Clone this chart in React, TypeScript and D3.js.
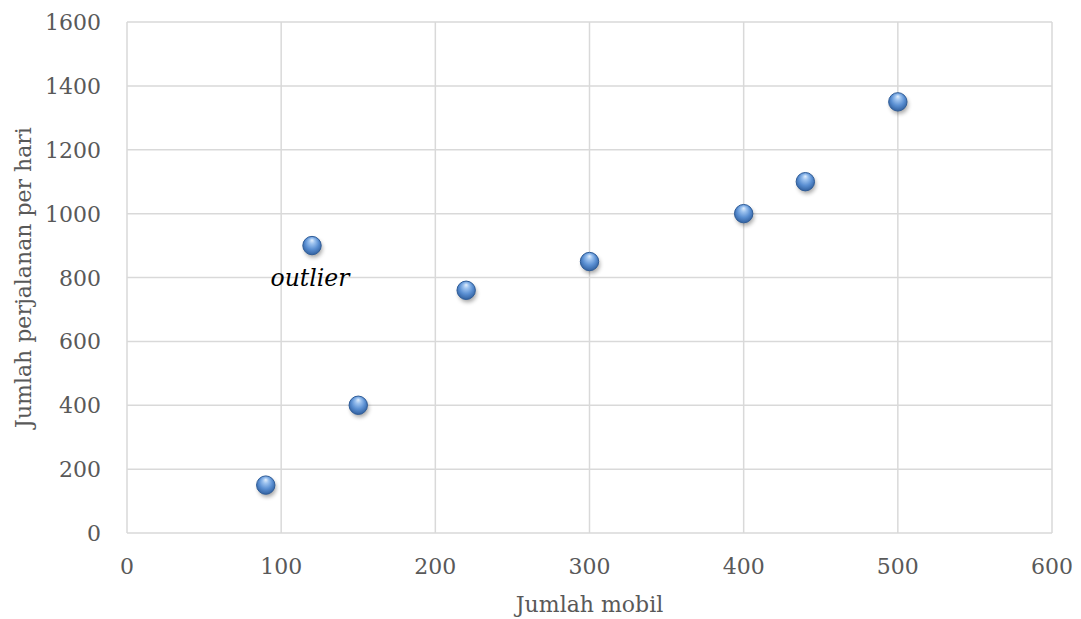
import React from 'react';
import * as d3 from 'd3';

// data
const jumlahMobil = [90, 120, 150, 220, 300, 400, 440, 500];
const perjalananPerHari = [150, 900, 400, 760, 850, 1000, 1100, 1350];
const xTicks = [0, 100, 200, 300, 400, 500, 600];
const yTicks = [0, 200, 400, 600, 800, 1000, 1200, 1400, 1600];
const outlierIndex = 1;

const width = 1081;
const height = 619;
const margin = { top: 22, right: 29, bottom: 86, left: 127 };
const font = '"DejaVu Serif", serif';

export default function App() {
    const x = d3.scaleLinear().domain([0, 600]).range([margin.left, width - margin.right]);
    const y = d3.scaleLinear().domain([0, 1600]).range([height - margin.bottom, margin.top]);

    const points = jumlahMobil.map((v, i) => ({ x: v, y: perjalananPerHari[i] }));
    const outlier = points[outlierIndex];

    return (
        <svg width={width} height={height} style={{ position: 'absolute', left: 0, top: 0 }}>
            <defs>
                <radialGradient id="ball" cx="50%" cy="45%" r="60%" fx="50%" fy="20%">
                    <stop offset="0%" stopColor="#e3effc" />
                    <stop offset="25%" stopColor="#9cc2ef" />
                    <stop offset="60%" stopColor="#5a8fd2" />
                    <stop offset="100%" stopColor="#2c5a98" />
                </radialGradient>
                <filter id="shadow" x="-50%" y="-50%" width="200%" height="200%">
                    <feGaussianBlur stdDeviation="2" />
                </filter>
            </defs>
            <rect width={width} height={height} fill="#fff" />

            {/* gridlines */}
            <g stroke="#d9d9d9" strokeWidth={1.5}>
                {xTicks.map((t) => (
                    <line key={'gx' + t} x1={x(t)} x2={x(t)} y1={y(0)} y2={y(1600)} />
                ))}
                {yTicks.map((t) => (
                    <line key={'gy' + t} x1={x(0)} x2={x(600)} y1={y(t)} y2={y(t)} />
                ))}
            </g>

            {/* tick labels */}
            <g fontFamily={font} fontSize={22} fill="#595959">
                {xTicks.map((t) => (
                    <text key={'tx' + t} x={x(t)} y={y(0) + 41} textAnchor="middle">
                        {t}
                    </text>
                ))}
                {yTicks.map((t) => (
                    <text key={'ty' + t} x={x(0) - 26} y={y(t) + 8} textAnchor="end">
                        {t}
                    </text>
                ))}
            </g>

            {/* axis titles */}
            <text
                x={(x(0) + x(600)) / 2}
                y={612}
                textAnchor="middle"
                fontFamily={font}
                fontSize={22}
                fill="#595959"
            >
                Jumlah mobil
            </text>
            <text
                transform={`translate(31,${(y(0) + y(1600)) / 2}) rotate(-90)`}
                textAnchor="middle"
                fontFamily={font}
                fontSize={22}
                fill="#595959"
            >
                Jumlah perjalanan per hari
            </text>

            {/* points */}
            <g>
                {points.map((p, i) => (
                    <circle
                        key={'s' + i}
                        cx={x(p.x) + 1.5}
                        cy={y(p.y) + 3}
                        r={9}
                        fill="#000"
                        opacity={0.35}
                        filter="url(#shadow)"
                    />
                ))}
                {points.map((p, i) => (
                    <circle
                        key={'p' + i}
                        cx={x(p.x)}
                        cy={y(p.y)}
                        r={9.2}
                        fill="url(#ball)"
                        stroke="#2f5d99"
                        strokeWidth={1}
                    />
                ))}
            </g>

            {/* annotation */}
            <text
                x={x(outlier.x) - 2}
                y={y(outlier.y) + 40}
                textAnchor="middle"
                fontFamily={font}
                fontStyle="italic"
                fontSize={23.5}
                fill="#000"
            >
                outlier
            </text>
        </svg>
    );
}
